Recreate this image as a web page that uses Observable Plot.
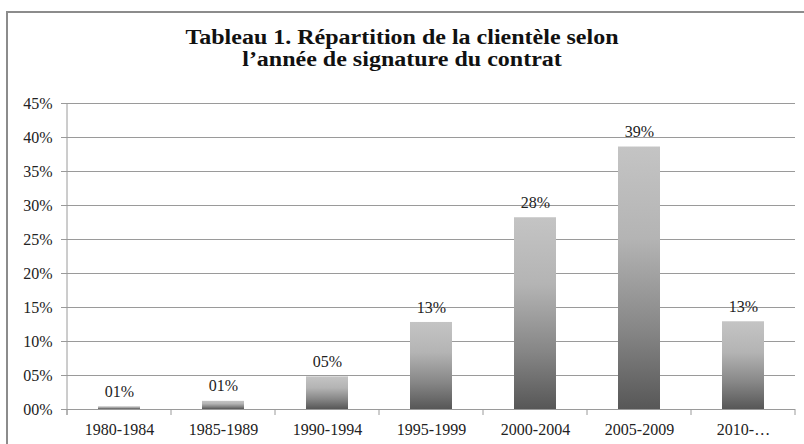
<!DOCTYPE html>
<html>
<head>
<meta charset="utf-8">
<script src="https://cdn.jsdelivr.net/npm/d3@7"></script>
<script src="https://cdn.jsdelivr.net/npm/@observablehq/plot@0.6"></script>
<style>
  html, body { margin: 0; padding: 0; background: #fff; }
  #wrap { position: relative; width: 804px; height: 444px; overflow: hidden; font-family: "Liberation Serif", "Times New Roman", serif; }
  #frame { position: absolute; left: 6px; top: 11px; width: 830px; height: 460px; border: 2px solid #8c8c8c; box-sizing: border-box; }
  #title { position: absolute; left: 0; top: 26px; width: 804px; text-align: center; font-weight: bold; font-size: 20px; line-height: 22px; color: #111; transform: scaleX(1.2); transform-origin: 402px 0; }
  #chart { position: absolute; left: 0; top: 90px; }
</style>
</head>
<body>
<div id="wrap">
  <div id="frame"></div>
  <div id="title">Tableau 1. Répartition de la clientèle selon<br>l’année de signature du contrat</div>
  <div id="chart"></div>
</div>
<script>
const categories = ["1980-1984", "1985-1989", "1990-1994", "1995-1999", "2000-2004", "2005-2009", "2010-…"];
const values = [0.004, 0.012, 0.048, 0.128, 0.282, 0.386, 0.129];
const valueLabels = ["01%", "01%", "05%", "13%", "28%", "39%", "13%"];
const yTicks = [0, 0.05, 0.10, 0.15, 0.20, 0.25, 0.30, 0.35, 0.40, 0.45];

const data = categories.map((c, i) => ({cat: c, value: values[i], label: valueLabels[i]}));
const fmt = d => String(Math.round(d * 100)).padStart(2, "0") + "%";
const font = "Liberation Serif";

const chart = Plot.plot({
  width: 804,
  height: 354,
  marginLeft: 67,
  marginRight: 9,
  marginTop: 13,
  marginBottom: 35,
  style: {fontFamily: font, fontSize: "16px", color: "#222", background: "transparent"},
  x: {domain: categories, paddingInner: 0.6, paddingOuter: 0.3, label: null},
  y: {domain: [0, 0.45], label: null},
  marks: [
    Plot.gridY(yTicks, {stroke: "#9a9a9a", strokeOpacity: 1, strokeWidth: 1}),
    Plot.axisY(yTicks, {tickFormat: fmt, tickSize: 6, tickPadding: 9, stroke: "#9a9a9a", fill: "#222", fontSize: 16, label: null}),
    Plot.axisX({tickSize: 0, tickPadding: 14, fill: "#222", fontSize: 16, label: null}),
    Plot.barY(data, {x: "cat", y: "value", fill: "url(#barGrad)"}),
    Plot.text(data, {x: "cat", y: "value", text: "label", dy: -15, fontSize: 16, fill: "#222"})
  ]
});

// gradient definition for bars
const svg = d3.select(chart);
const defs = svg.insert("defs", ":first-child");
const g = defs.append("linearGradient").attr("id", "barGrad").attr("x1", 0).attr("y1", 0).attr("x2", 0).attr("y2", 1);
[[0, "#c4c4c4"], [0.35, "#b4b4b4"], [0.7, "#868686"], [1, "#575757"]].forEach(([o, c]) =>
  g.append("stop").attr("offset", o).attr("stop-color", c));

// axis lines and category boundary ticks, from the plot's scales
const xs = chart.scale("x");
const ys = chart.scale("y");
const y0 = ys.apply(0);
const yTop = ys.apply(0.45);
const left = xs.range[0];
const right = xs.range[1];
svg.append("line").attr("x1", left).attr("x2", left).attr("y1", yTop).attr("y2", y0 + 6).attr("stroke", "#9a9a9a");
const bounds = categories.map(c => xs.apply(c) - (xs.step - xs.bandwidth) / 2);
bounds.push(right);
svg.append("g").selectAll("line").data(bounds).join("line")
  .attr("x1", d => d).attr("x2", d => d).attr("y1", y0).attr("y2", y0 + 6).attr("stroke", "#9a9a9a");

document.getElementById("chart").appendChild(chart);
</script>
</body>
</html>
